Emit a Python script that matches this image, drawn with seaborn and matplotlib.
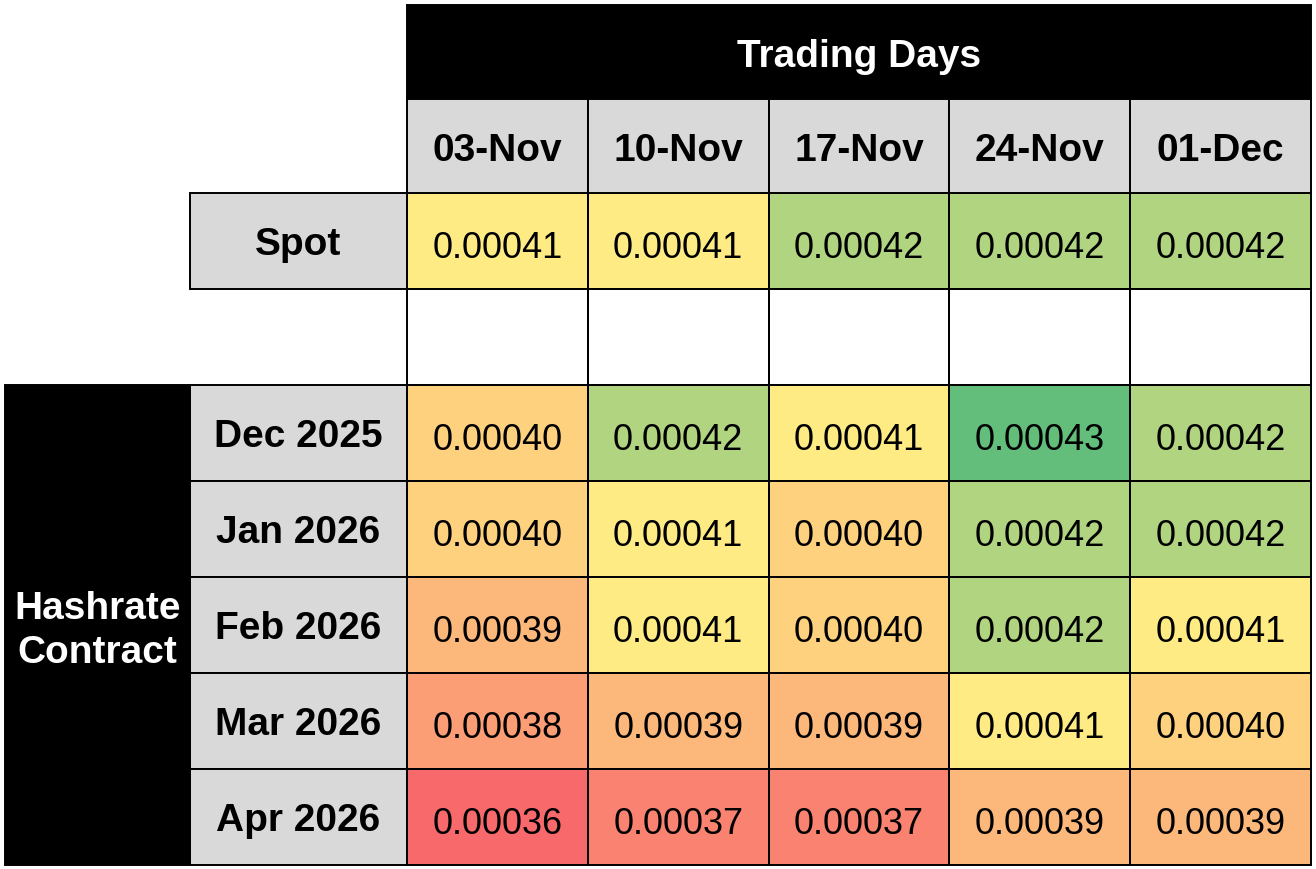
import numpy as np
import pandas as pd
import matplotlib
matplotlib.use("Agg")
import matplotlib.pyplot as plt
import seaborn as sns
from matplotlib.colors import LinearSegmentedColormap
from matplotlib.patches import Rectangle

# -------------------
# Data
# -------------------
trading_days = ["03-Nov", "10-Nov", "17-Nov", "24-Nov", "01-Dec"]
contracts = ["Dec 2025", "Jan 2026", "Feb 2026", "Mar 2026", "Apr 2026"]

spot = [0.00041, 0.00041, 0.00042, 0.00042, 0.00042]
dec_2025 = [0.00040, 0.00042, 0.00041, 0.00043, 0.00042]
jan_2026 = [0.00040, 0.00041, 0.00040, 0.00042, 0.00042]
feb_2026 = [0.00039, 0.00041, 0.00040, 0.00042, 0.00041]
mar_2026 = [0.00038, 0.00039, 0.00039, 0.00041, 0.00040]
apr_2026 = [0.00036, 0.00037, 0.00037, 0.00039, 0.00039]

# Spot row, an empty spacer row, then the contract rows
df = pd.DataFrame(
    [spot, [np.nan] * 5, dec_2025, jan_2026, feb_2026, mar_2026, apr_2026],
    index=["Spot", ""] + contracts,
    columns=trading_days,
)

# Red -> yellow -> green colour scale (midpoint at 0.00041)
vmin, vmid, vmax = 0.00036, 0.00041, 0.00043
cmap = LinearSegmentedColormap.from_list(
    "ryg",
    [(0.0, "#F8696B"), ((vmid - vmin) / (vmax - vmin), "#FFEB84"), (1.0, "#63BE7B")],
)

sns.set_theme(style="white")
plt.rcParams["font.family"] = ["Liberation Sans", "DejaVu Sans"]
plt.rcParams["text.color"] = "black"

W, H = 1316, 870
fig = plt.figure(figsize=(W / 100, H / 100), dpi=100)
fig.patch.set_facecolor("white")
ax = fig.add_axes([407 / W, 4 / H, (1311 - 407) / W, (866 - 194) / H])

lw = 1.4
gray = "#D9D9D9"

sns.heatmap(df, ax=ax, cmap=cmap, vmin=vmin, vmax=vmax, mask=df.isna(),
            annot=True, fmt=".5f", annot_kws=dict(size=26, color="black"),
            linewidths=0, cbar=False)

# nudge values a little below centre, like the spreadsheet
for t in ax.texts:
    x, y = t.get_position()
    t.set_position((x, y + 0.07))

ax.set_xticks([])
ax.set_yticks([])
ax.set_xlabel("")
ax.set_ylabel("")

# cell borders of the value block (spacer row included)
for i in range(len(df)):
    for j in range(len(trading_days)):
        ax.add_patch(Rectangle((j, i), 1, 1, facecolor="none", edgecolor="black",
                               lw=lw, clip_on=False, zorder=3))

# "Trading Days" header
ax.add_patch(Rectangle((0, -1.96), 5, 0.98, facecolor="black", edgecolor="black",
                       lw=lw, clip_on=False, zorder=3))
ax.text(2.5, -1.43, "Trading Days", color="white", fontsize=28, fontweight="bold",
        ha="center", va="center", zorder=5)

# date headers
for j, day in enumerate(trading_days):
    ax.add_patch(Rectangle((j, -0.98), 1, 0.98, facecolor=gray, edgecolor="black",
                           lw=lw, clip_on=False, zorder=3))
    ax.text(j + 0.5, -0.45, day, color="black", fontsize=28, fontweight="bold",
            ha="center", va="center", zorder=5)

# row labels
lab_w = (407 - 190) / 180.8
ax.add_patch(Rectangle((-lab_w, 0), lab_w, 1, facecolor=gray, edgecolor="black",
                       lw=lw, clip_on=False, zorder=3))
ax.text(-lab_w / 2, 0.53, "Spot", color="black", fontsize=28, fontweight="bold",
        ha="center", va="center", zorder=5)
for i, c in enumerate(contracts):
    ax.add_patch(Rectangle((-lab_w, i + 2), lab_w, 1, facecolor=gray, edgecolor="black",
                           lw=lw, clip_on=False, zorder=3))
    ax.text(-lab_w / 2, i + 2.53, c, color="black", fontsize=28, fontweight="bold",
            ha="center", va="center", zorder=5)

# "Hashrate Contract" block
blk_w = (190 - 5) / 180.8
ax.add_patch(Rectangle((-lab_w - blk_w, 2), blk_w, 5, facecolor="black", edgecolor="black",
                       lw=lw, clip_on=False, zorder=3))
ax.text(-lab_w - blk_w / 2, 4.55, "Hashrate\nContract", color="white", fontsize=28,
        fontweight="bold", ha="center", va="center", linespacing=1.3, zorder=5)

fig.savefig("out.png", dpi=100)
